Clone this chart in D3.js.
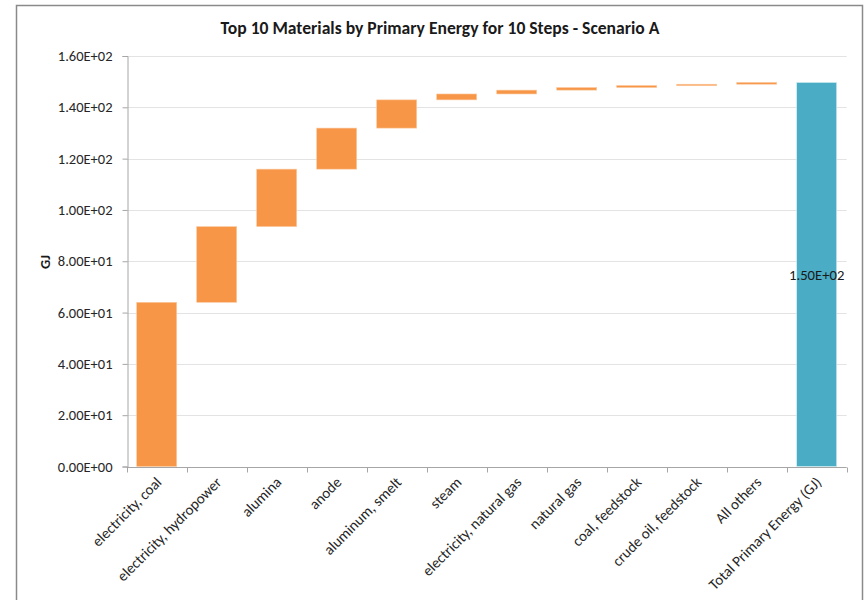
<!DOCTYPE html>
<html>
<head>
<meta charset="utf-8">
<script src="https://cdn.jsdelivr.net/npm/d3@7"></script>
<style>
  html, body { margin: 0; padding: 0; background: #fff; }
  svg { display: block; font-family: Calibri, Carlito, "Open Sans", "Noto Sans", sans-serif; }
</style>
</head>
<body>
<svg id="chart" width="864" height="600"></svg>
<script>
// ---- data ----
const categories = [
  "electricity, coal", "electricity, hydropower", "alumina", "anode",
  "aluminum, smelt", "steam", "electricity, natural gas", "natural gas",
  "coal, feedstock", "crude oil, feedstock", "All others"
];
const increments = [64.0, 29.5, 22.4, 16.0, 11.0, 2.3, 1.5, 1.0, 0.8, 0.5, 0.7];
const totalCategory = "Total Primary Energy (GJ)";
const yTickValues = [0, 20, 40, 60, 80, 100, 120, 140, 160];
const titleText = "Top 10 Materials by Primary Energy for 10 Steps - Scenario A";
const yAxisTitle = "GJ";

// ---- derived rows ----
let running = 0;
const rows = categories.map((c, i) => {
  const base = running;
  running += increments[i];
  return { cat: c, y0: base, y1: running, total: false };
});
const totalValue = running;
rows.push({ cat: totalCategory, y0: 0, y1: totalValue, total: true });
const allCats = rows.map(r => r.cat);

// ---- layout ----
const svg = d3.select("#chart");
const plotL = 126.7, plotR = 846.7, plotT = 56, plotB = 466.5;

svg.append("rect")
  .attr("x", 16.5).attr("y", 5.5).attr("width", 846).attr("height", 620)
  .attr("fill", "#fff").attr("stroke", "#8a8a8a").attr("stroke-width", 1.5);

const x = d3.scaleBand().domain(allCats).range([plotL, plotR])
  .paddingInner(1/3).paddingOuter(1/6);
const y = d3.scaleLinear().domain([0, 160]).range([plotB, plotT]);

const fmt = v => {
  const s = d3.format(".2e")(v); // e.g. 1.60e+2
  const m = s.match(/^(-?[\d.]+)e([+-])(\d+)$/);
  return m[1] + "E" + m[2] + m[3].padStart(2, "0");
};

// gridlines
svg.append("g")
  .selectAll("line").data(yTickValues.filter(v => v > 0)).join("line")
  .attr("x1", plotL).attr("x2", plotR)
  .attr("y1", d => Math.round(y(d)) + 0.5).attr("y2", d => Math.round(y(d)) + 0.5)
  .attr("stroke", "#e3e3e3").attr("stroke-width", 1);

// y axis
const yAxis = svg.append("g")
  .attr("transform", `translate(${Math.round(plotL) + 0.5},0)`)
  .call(d3.axisLeft(y).tickValues(yTickValues).tickFormat(fmt).tickSize(5).tickPadding(10));
yAxis.attr("font-family", null).attr("font-size", null);
yAxis.select(".domain").attr("stroke", "#a6a6a6");
yAxis.selectAll(".tick line").attr("stroke", "#a6a6a6");
yAxis.selectAll(".tick text")
  .attr("font-size", 14.5).attr("fill", "#262626");

// x axis: ticks at band boundaries
const step = x.step();
const boundaries = d3.range(allCats.length + 1).map(i => plotL + i * step);
svg.append("line")
  .attr("x1", plotL).attr("x2", plotR)
  .attr("y1", Math.round(plotB) + 0.5).attr("y2", Math.round(plotB) + 0.5)
  .attr("stroke", "#a6a6a6");
svg.append("g").selectAll("line").data(boundaries).join("line")
  .attr("x1", d => Math.round(d) + 0.5).attr("x2", d => Math.round(d) + 0.5)
  .attr("y1", Math.round(plotB) + 0.5).attr("y2", Math.round(plotB) + 5.5)
  .attr("stroke", "#a6a6a6");

// x labels
svg.append("g").selectAll("text").data(allCats).join("text")
  .attr("transform", d => `translate(${x(d) + x.bandwidth() / 2 + 2},${plotB + 13}) rotate(-45)`)
  .attr("text-anchor", "end")
  .attr("dy", "0.35em")
  .attr("font-size", 15).attr("fill", "#262626")
  .text(d => d);

// bars
svg.append("g").selectAll("rect").data(rows).join("rect")
  .attr("x", d => x(d.cat))
  .attr("width", x.bandwidth())
  .attr("y", d => y(d.y1))
  .attr("height", d => Math.max(1.5, y(d.y0) - y(d.y1)))
  .attr("fill", d => d.total ? "#4BACC6" : "#F79646")
  .attr("stroke", d => d.total ? "#d6eef4" : "#fbcaa2")
  .attr("stroke-width", 0.6);

// data label on total bar
const tot = rows[rows.length - 1];
svg.append("text")
  .attr("x", x(tot.cat) + x.bandwidth() / 2)
  .attr("y", (y(tot.y0) + y(tot.y1)) / 2)
  .attr("dy", "0.35em")
  .attr("text-anchor", "middle")
  .attr("font-size", 14.7).attr("fill", "#1a1a1a")
  .text(fmt(totalValue));

// y axis title
svg.append("text")
  .attr("transform", `translate(45,262) rotate(-90)`)
  .attr("text-anchor", "middle").attr("dy", "0.35em")
  .attr("font-size", 14.5).attr("font-weight", "bold").attr("fill", "#1a1a1a")
  .text(yAxisTitle);

// chart title
svg.append("text")
  .attr("x", 440).attr("y", 28).attr("dy", "0.35em")
  .attr("text-anchor", "middle")
  .attr("font-size", 17.6).attr("font-weight", "bold").attr("fill", "#1a1a1a")
  .text(titleText);
</script>
</body>
</html>
